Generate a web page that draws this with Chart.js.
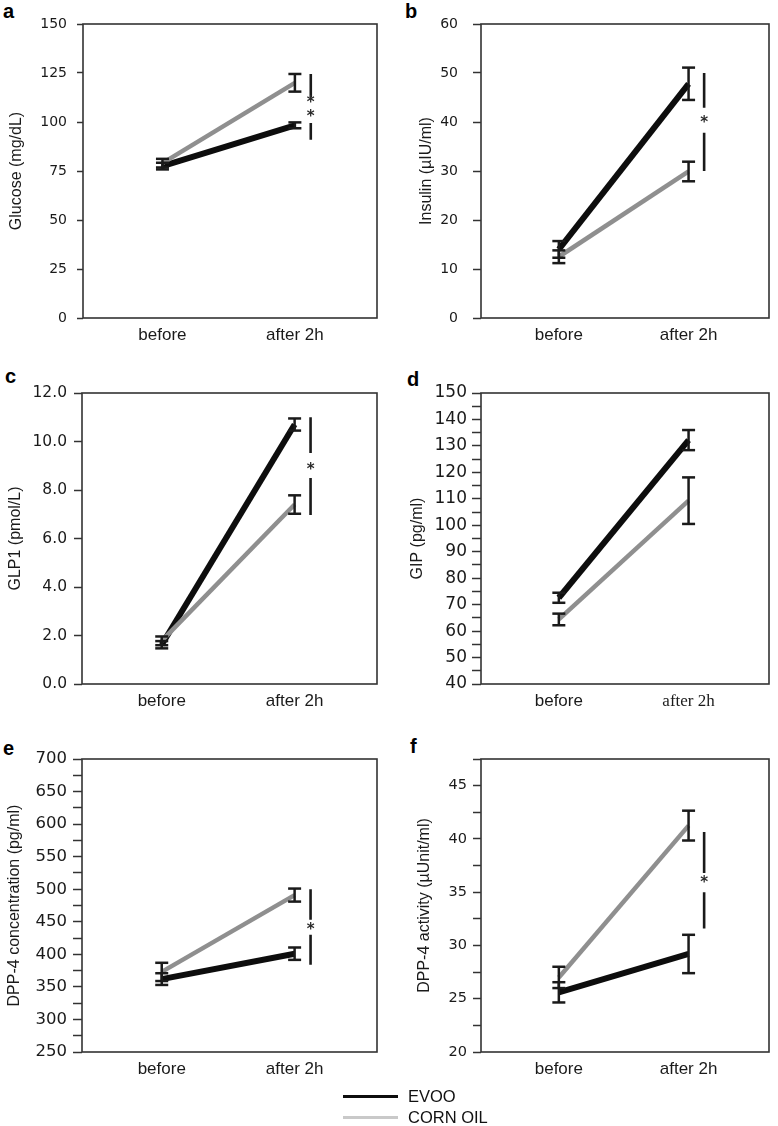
<!DOCTYPE html>
<html>
<head>
<meta charset="utf-8">
<script src="https://cdn.jsdelivr.net/npm/chart.js@4.4.0/dist/chart.umd.min.js"></script>
<style>
  body { margin: 0; background: #fff; width: 778px; height: 1126px; position: relative; overflow: hidden;
         font-family: "Liberation Sans", Arial, sans-serif; }
  canvas { position: absolute; }
  .tag { position: absolute; font-weight: bold; font-size: 20px; line-height: 20px; color: #000; }
  .leg { position: absolute; left: 343px; font-size: 16.5px; line-height: 20px; color: #111; white-space: nowrap; }
  .leg span { display: inline-block; width: 55px; height: 3px; vertical-align: middle; margin-right: 10px; position: relative; top: -1px; }
</style>
</head>
<body>
<div class="tag" style="left:3px;top:1px">a</div>
<div class="tag" style="left:405px;top:1px">b</div>
<div class="tag" style="left:5px;top:366px">c</div>
<div class="tag" style="left:407px;top:369px">d</div>
<div class="tag" style="left:3px;top:738px">e</div>
<div class="tag" style="left:410px;top:736px">f</div>

<canvas id="pa" width="388" height="350" style="left:0;top:0"></canvas>
<canvas id="pb" width="388" height="350" style="left:390px;top:0"></canvas>
<canvas id="pc" width="388" height="370" style="left:0;top:350px"></canvas>
<canvas id="pd" width="388" height="370" style="left:390px;top:350px"></canvas>
<canvas id="pe" width="388" height="370" style="left:0;top:720px"></canvas>
<canvas id="pf" width="388" height="370" style="left:390px;top:720px"></canvas>

<div class="leg" style="top:1086px"><span style="background:#0d0d0d"></span>EVOO</div>
<div class="leg" style="top:1107px"><span style="background:#c9c9c9"></span>CORN OIL</div>

<script>
// categories
const timePoints = ['before', 'after 2h'];

// a - glucose (mg/dL)
const glucoseEvoo = [77.5, 98.3];
const glucoseEvooErr = [1.7, 1.5];
const glucoseCorn = [79, 120];
const glucoseCornErr = [2.2, 4.5];
const glucoseSig = [124.5, 112.5, 99.5, 91];
const glucoseStars = [111, 104];

// b - insulin (µIU/ml)
const insulinEvoo = [14, 47.8];
const insulinEvooErr = [1.7, 3.3];
const insulinCorn = [12.5, 29.9];
const insulinCornErr = [1.3, 2];
const insulinSig = [50, 42.9, 37.8, 30];
const insulinStars = [40.3];

// c - GLP1 (pmol/L)
const glp1Evoo = [1.62, 10.7];
const glp1EvooErr = [0.15, 0.25];
const glp1Corn = [1.78, 7.4];
const glp1CornErr = [0.18, 0.38];
const glp1Sig = [11, 9.53, 8.49, 6.97];
const glp1Stars = [8.95];

// d - GIP (pg/ml)
const gipEvoo = [72.6, 132.2];
const gipEvooErr = [1.9, 3.8];
const gipCorn = [64.4, 109.3];
const gipCornErr = [2.2, 8.8];

// e - DPP-4 concentration (pg/ml)
const dppConcEvoo = [362, 401];
const dppConcEvooErr = [9, 9.5];
const dppConcCorn = [373, 491];
const dppConcCornErr = [14, 10];
const dppConcSig = [500, 453, 430, 384];
const dppConcStars = [442];

// f - DPP-4 activity (µUnit/ml)
const dppActEvoo = [25.6, 29.2];
const dppActEvooErr = [0.95, 1.8];
const dppActCorn = [27, 41.25];
const dppActCornErr = [1.0, 1.4];
const dppActSig = [40.66, 36.8, 35.0, 31.6];
const dppActStars = [36.1];

const sigX = 2.12;
const ink = '#1a1a1a';
const frameColor = '#333';
const evooColor = '#0d0d0d';
const cornColor = '#8f8f8f';
const tickFamily = '"DejaVu Sans", Verdana, sans-serif';
const textFamily = '"Liberation Sans", Arial, sans-serif';

const framePlugin = {
  id: 'frame',
  afterDraw(chart) {
    const a = chart.chartArea, ctx = chart.ctx;
    ctx.save();
    ctx.strokeStyle = frameColor;
    ctx.lineWidth = 1.6;
    ctx.strokeRect(a.left, a.top, a.right - a.left, a.bottom - a.top);
    ctx.restore();
  }
};

const starPlugin = {
  id: 'stars',
  afterDatasetsDraw(chart, args, opts) {
    if (!opts.values) return;
    const ctx = chart.ctx;
    ctx.save();
    ctx.fillStyle = '#2a2a2a';
    ctx.font = 'bold 15px ' + tickFamily;
    ctx.textAlign = 'center';
    ctx.textBaseline = 'middle';
    opts.values.forEach(v => {
      ctx.fillText('*', chart.scales.x.getPixelForValue(sigX), chart.scales.y.getPixelForValue(v) + 3);
    });
    ctx.restore();
  }
};

function errorBars(means, errs) {
  return means.map((m, i) => ({
    data: [{ x: i + 1, y: m - errs[i] }, { x: i + 1, y: m + errs[i] }],
    borderColor: ink, borderWidth: 2.5,
    pointStyle: 'line', pointRadius: 6.5, pointBorderWidth: 2.5, pointBorderColor: ink,
    order: 0
  }));
}

function makePanel(p) {
  const datasets = [
    ...errorBars(p.evoo, p.evooErr),
    ...errorBars(p.corn, p.cornErr),
    { label: 'CORN OIL', data: p.corn.map((v, i) => ({ x: i + 1, y: v })),
      borderColor: cornColor, borderWidth: 4.5, pointRadius: 0, order: 1 },
    { label: 'EVOO', data: p.evoo.map((v, i) => ({ x: i + 1, y: v })),
      borderColor: evooColor, borderWidth: 6, pointRadius: 0, order: 2 }
  ];
  if (p.sig) {
    datasets.push({
      data: [{ x: sigX, y: p.sig[0] }, { x: sigX, y: p.sig[1] }, { x: sigX, y: null },
             { x: sigX, y: p.sig[2] }, { x: sigX, y: p.sig[3] }],
      borderColor: ink, borderWidth: 2.6, pointRadius: 0, order: 0
    });
  }

  new Chart(document.getElementById(p.id), {
    type: 'line',
    data: { datasets },
    plugins: [framePlugin, starPlugin],
    options: {
      responsive: false,
      animation: false,
      layout: { padding: { top: p.pt, right: p.pr, left: 0, bottom: 0 } },
      plugins: { legend: { display: false }, tooltip: { enabled: false }, stars: { values: p.stars } },
      scales: {
        x: {
          type: 'linear', min: 0.4, max: 2.62,
          afterBuildTicks: s => { s.ticks = timePoints.map((t, i) => ({ value: i + 1 })); },
          afterFit: s => { s.height = p.xh; },
          ticks: {
            callback: v => timePoints[v - 1],
            autoSkip: false, maxRotation: 0, padding: 7, color: ink,
            font: ctx => (p.serifAfter && ctx.index === 1)
              ? { family: '"Liberation Serif", "Times New Roman", serif', size: 17 }
              : { family: textFamily, size: 17 }
          },
          grid: { display: false, drawTicks: false },
          border: { display: false }
        },
        y: {
          min: p.min, max: p.max,
          afterFit: s => { s.width = p.yw; },
          ticks: {
            stepSize: p.step, maxTicksLimit: 200, autoSkip: false,
            callback: v => (Math.abs(v / p.major - Math.round(v / p.major)) < 1e-6) ? v.toFixed(p.dec) : '',
            font: { family: tickFamily, size: p.tickSize },
            color: ink, padding: p.tickPad
          },
          grid: { drawOnChartArea: false, tickLength: p.tickLen, tickWidth: 1.5, tickColor: frameColor },
          border: { display: false },
          title: {
            display: true, text: p.title, color: ink,
            font: { family: textFamily, size: 16 },
            padding: { top: p.titlePad, bottom: 0 }
          }
        }
      }
    }
  });
}

makePanel({ id: 'pa', evoo: glucoseEvoo, evooErr: glucoseEvooErr, corn: glucoseCorn, cornErr: glucoseCornErr,
  sig: glucoseSig, stars: glucoseStars, title: 'Glucose (mg/dL)',
  min: 0, max: 150, step: 25, major: 25, dec: 0,
  yw: 83, pt: 24, pr: 11, xh: 32, tickSize: 14, tickPad: 10, tickLen: 6, titlePad: 7.4 });

makePanel({ id: 'pb', evoo: insulinEvoo, evooErr: insulinEvooErr, corn: insulinCorn, cornErr: insulinCornErr,
  sig: insulinSig, stars: insulinStars, title: 'Insulin (\u00b5IU/ml)',
  min: 0, max: 60, step: 10, major: 10, dec: 0,
  yw: 91, pt: 24, pr: 8, xh: 32, tickSize: 14, tickPad: 15, tickLen: 8, titlePad: 27.4 });

makePanel({ id: 'pc', evoo: glp1Evoo, evooErr: glp1EvooErr, corn: glp1Corn, cornErr: glp1CornErr,
  sig: glp1Sig, stars: glp1Stars, title: 'GLP1 (pmol/L)',
  min: 0, max: 12, step: 2, major: 2, dec: 1,
  yw: 82, pt: 43, pr: 11, xh: 36, tickSize: 15.5, tickPad: 7, tickLen: 8, titlePad: 6.4 });

makePanel({ id: 'pd', evoo: gipEvoo, evooErr: gipEvooErr, corn: gipCorn, cornErr: gipCornErr,
  title: 'GIP (pg/ml)', serifAfter: true,
  min: 40, max: 150, step: 5, major: 10, dec: 0,
  yw: 91, pt: 43, pr: 8, xh: 36, tickSize: 17, tickPad: 5, tickLen: 9, titlePad: 18.4 });

makePanel({ id: 'pe', evoo: dppConcEvoo, evooErr: dppConcEvooErr, corn: dppConcCorn, cornErr: dppConcCornErr,
  sig: dppConcSig, stars: dppConcStars, title: 'DPP-4 concentration (pg/ml)',
  min: 250, max: 700, step: 25, major: 50, dec: 0,
  yw: 82, pt: 39, pr: 11, xh: 38, tickSize: 16.5, tickPad: 6, tickLen: 9, titlePad: 5.4 });

makePanel({ id: 'pf', evoo: dppActEvoo, evooErr: dppActEvooErr, corn: dppActCorn, cornErr: dppActCornErr,
  sig: dppActSig, stars: dppActStars, title: 'DPP-4 activity (\u00b5Unit/ml)',
  min: 20, max: 47.5, step: 2.5, major: 5, dec: 0,
  yw: 91, pt: 39, pr: 2, xh: 38, tickSize: 14.5, tickPad: 6, tickLen: 8, titlePad: 25.4 });
</script>
</body>
</html>
